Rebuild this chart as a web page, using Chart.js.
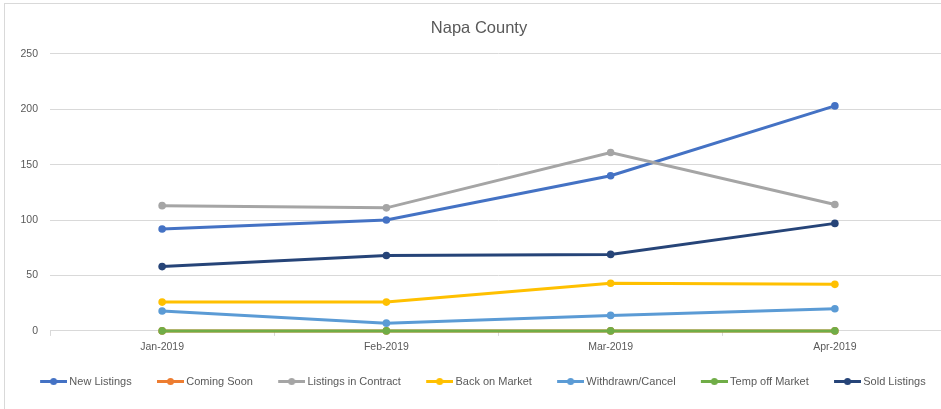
<!DOCTYPE html>
<html>
<head>
<meta charset="utf-8">
<script src="https://cdn.jsdelivr.net/npm/chart.js@4.4.1/dist/chart.umd.min.js"></script>
<style>
    body { margin: 0; overflow: hidden; background: #fff; width: 941px; height: 409px; position: relative; }
    #moldura { position: absolute; left: 4px; top: 3px; width: 980px; height: 440px; border: 1px solid #d9d9d9; }
    #caixa { position: absolute; left: 0; top: 0; width: 960px; height: 409px; }
</style>
</head>
<body>
<div id="moldura"></div>
<div id="caixa"><canvas id="graficoNapa"></canvas></div>
<script>
// Dados
const meses = ["Jan-2019", "Feb-2019", "Mar-2019", "Apr-2019"];
const novasListagens = [92, 100, 140, 203];
const emBreve = [0, 0, 0, 0];
const emContrato = [113, 111, 161, 114];
const devolvidas = [26, 26, 43, 42];
const retiradas = [18, 7, 14, 20];
const temporarias = [0, 0, 0, 0];
const vendidas = [58, 68, 69, 97];

const series = [
    { nome: "New Listings", dados: novasListagens, cor: "#4472C4" },
    { nome: "Coming Soon", dados: emBreve, cor: "#ED7D31" },
    { nome: "Listings in Contract", dados: emContrato, cor: "#A5A5A5" },
    { nome: "Back on Market", dados: devolvidas, cor: "#FFC000" },
    { nome: "Withdrawn/Cancel", dados: retiradas, cor: "#5B9BD5" },
    { nome: "Temp off Market", dados: temporarias, cor: "#70AD47" },
    { nome: "Sold Listings", dados: vendidas, cor: "#264478" }
];

const fonte = "'Liberation Sans', Arial, sans-serif";
const cinzaTexto = "#595959";
const cinzaGrade = "#d9d9d9";

// Ícone da legenda: espaço vazio à esquerda, depois linha com marcador no meio
function iconeLegenda(cor) {
    const c = document.createElement('canvas');
    c.width = 38;
    c.height = 9;
    const ctx = c.getContext('2d');
    ctx.strokeStyle = cor;
    ctx.lineWidth = 3;
    ctx.beginPath();
    ctx.moveTo(11, 4.5);
    ctx.lineTo(38, 4.5);
    ctx.stroke();
    ctx.fillStyle = cor;
    ctx.beginPath();
    ctx.arc(24.5, 4.5, 3.5, 0, Math.PI * 2);
    ctx.fill();
    return c;
}

const datasets = series.map((s, i) => ({
    label: s.nome,
    data: s.dados,
    borderColor: s.cor,
    backgroundColor: s.cor,
    borderWidth: 3,
    pointRadius: 3.8,
    pointHoverRadius: 4,
    pointBorderWidth: 0,
    tension: 0,
    clip: false,
    order: series.length - i
}));

new Chart(document.getElementById("graficoNapa"), {
    type: "line",
    data: { labels: meses, datasets: datasets },
    options: {
        responsive: true,
        maintainAspectRatio: false,
        animation: false,
        layout: { padding: { left: 11, right: 13, top: 0, bottom: 12 } },
        plugins: {
            title: {
                display: true,
                text: "Napa County",
                color: cinzaTexto,
                font: { family: fonte, size: 16.5, weight: 'normal' },
                padding: { top: 19, bottom: 15 }
            },
            legend: {
                position: 'bottom',
                labels: {
                    usePointStyle: true,
                    pointStyleWidth: 31.5,
                    boxHeight: 11,
                    padding: 17.5,
                    color: cinzaTexto,
                    font: { family: fonte, size: 11 },
                    sort: (a, b) => a.datasetIndex - b.datasetIndex,
                    generateLabels: (chart) => {
                        const itens = Chart.defaults.plugins.legend.labels.generateLabels(chart);
                        return itens.map(item => {
                            item.pointStyle = iconeLegenda(series[item.datasetIndex].cor);
                            return item;
                        });
                    }
                }
            },
            tooltip: { enabled: false }
        },
        scales: {
            x: {
                offset: true,
                grid: {
                    display: true,
                    drawOnChartArea: false,
                    offset: true,
                    tickLength: 5,
                    color: cinzaGrade
                },
                border: { color: cinzaGrade },
                ticks: {
                    color: cinzaTexto,
                    font: { family: fonte, size: 10.5 },
                    padding: 5,
                    maxRotation: 0
                }
            },
            y: {
                min: 0,
                max: 250,
                ticks: {
                    stepSize: 50,
                    color: cinzaTexto,
                    font: { family: fonte, size: 10.5 },
                    padding: 12
                },
                grid: { color: cinzaGrade, drawTicks: false },
                border: { display: false },
                afterFit: (escala) => { escala.width = 39; }
            }
        }
    }
});
</script>
</body>
</html>
